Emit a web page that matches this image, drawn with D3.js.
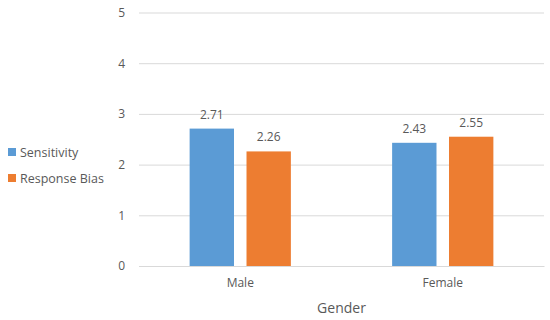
<!DOCTYPE html>
<html>
<head>
<meta charset="utf-8">
<script src="https://cdn.jsdelivr.net/npm/d3@7"></script>
<style>
  body { margin: 0; background: #fff; }
  text { font-family: "Open Sans", "Liberation Sans", sans-serif; fill: #595959; }
</style>
</head>
<body>
<div id="chart"></div>
<script>
// donnees
const categories = ['Male', 'Female'];
const seriesNames = ['Sensitivity', 'Response Bias'];
const sensitivity = [2.71, 2.43];
const responseBias = [2.26, 2.55];
const yTicks = [0, 1, 2, 3, 4, 5];
const colors = ['#5B9BD5', '#ED7D31'];

const width = 550, height = 320;
const margin = { top: 12.5, right: 6, bottom: 54, left: 139 };
const innerW = width - margin.left - margin.right;
const innerH = height - margin.top - margin.bottom;

const svg = d3.select('#chart')
  .append('svg')
  .attr('width', width)
  .attr('height', height);

const g = svg.append('g')
  .attr('transform', 'translate(' + margin.left + ',' + margin.top + ')');

// axe X
const x = d3.scaleBand()
  .domain(categories)
  .range([0, innerW])
  .paddingInner(0.5)
  .paddingOuter(0.25);

const x1 = d3.scaleBand()
  .domain(seriesNames)
  .range([0, x.bandwidth()])
  .paddingInner(0.22);

// axe Y
const y = d3.scaleLinear()
  .domain([0, 5])
  .range([innerH, 0]);

// grille
const yAxis = g.append('g')
  .call(d3.axisLeft(y).tickValues(yTicks).tickSize(-innerW).tickPadding(14).tickFormat(d3.format('d')));
yAxis.select('.domain').remove();
yAxis.selectAll('line').attr('stroke', '#d9d9d9').attr('stroke-width', 1);
yAxis.selectAll('text').style('font-size', '12px').attr('fill', '#595959');

const rows = categories.map((c, i) => ({ cat: c, values: [sensitivity[i], responseBias[i]] }));

const groups = g.selectAll('.grp')
  .data(rows)
  .enter().append('g')
  .attr('transform', d => 'translate(' + x(d.cat) + ',0)');

groups.selectAll('rect')
  .data(d => d.values.map((v, j) => ({ name: seriesNames[j], value: v, j: j })))
  .enter().append('rect')
  .attr('x', d => x1(d.name))
  .attr('width', x1.bandwidth())
  .attr('y', d => y(d.value))
  .attr('height', d => innerH - y(d.value))
  .attr('fill', d => colors[d.j]);

groups.selectAll('.lbl')
  .data(d => d.values.map((v, j) => ({ name: seriesNames[j], value: v })))
  .enter().append('text')
  .attr('x', d => x1(d.name) + x1.bandwidth() / 2)
  .attr('y', d => y(d.value) - 10)
  .attr('text-anchor', 'middle')
  .style('font-size', '12px')
  .text(d => d3.format('.2f')(d.value));

// axe X
const xAxis = g.append('g')
  .attr('transform', 'translate(0,' + innerH + ')')
  .call(d3.axisBottom(x).tickSize(0).tickPadding(12));
xAxis.select('.domain').attr('stroke', '#d9d9d9');
xAxis.selectAll('text').style('font-size', '12px').attr('fill', '#595959');

g.append('text')
  .attr('x', innerW / 2)
  .attr('y', innerH + 47)
  .attr('text-anchor', 'middle')
  .style('font-size', '14px')
  .text('Gender');

// legende
const legend = svg.append('g').attr('transform', 'translate(8,148)');
seriesNames.forEach((name, i) => {
  const row = legend.append('g').attr('transform', 'translate(0,' + (i * 26) + ')');
  row.append('rect').attr('width', 8).attr('height', 8).attr('y', 0).attr('fill', colors[i]);
  row.append('text').attr('x', 12).attr('y', 8.5).style('font-size', '12.5px').text(name);
});
</script>
</body>
</html>
